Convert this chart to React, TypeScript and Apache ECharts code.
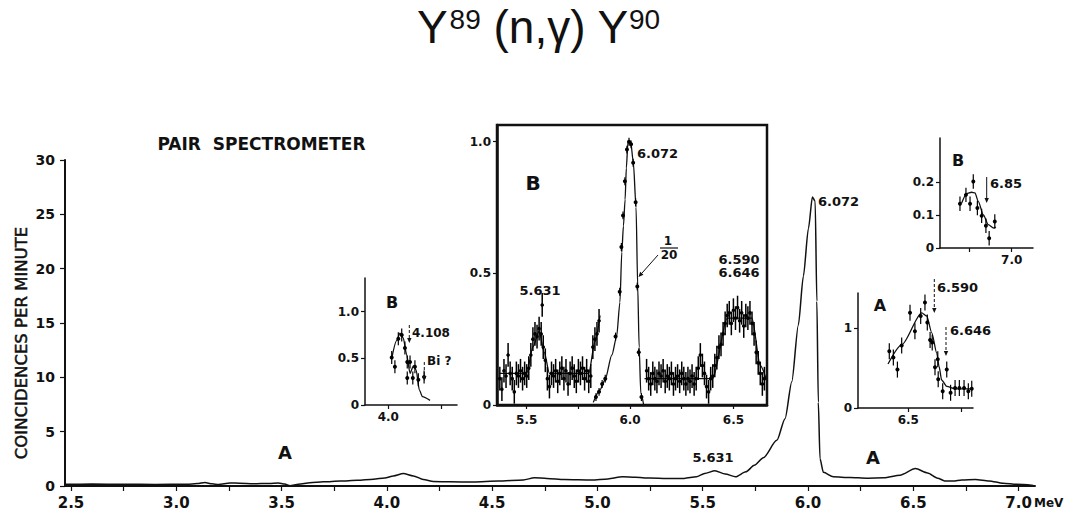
import React, { useEffect, useRef } from "react";
import * as echarts from "echarts";

// ---------- main spectrum (coincidences per minute vs MeV) ----------
const mainTicksX = [2.5, 2.75, 3.0, 3.25, 3.5, 3.75, 4.0, 4.25, 4.5, 4.75, 5.0, 5.25, 5.5, 5.75, 6.0, 6.25, 6.5, 6.75, 7.0];
const mainLabelsX = [2.5, 3.0, 3.5, 4.0, 4.5, 5.0, 5.5, 6.0, 6.5, 7.0];
const mainLabelsY = [0, 5, 10, 15, 20, 25, 30];
const mainSpectrum: [number, number][] = [
  [2.475, 0.15], [2.6, 0.18], [2.75, 0.16], [2.9, 0.14], [3.05, 0.17], [3.1, 0.22], [3.136, 0.32], [3.17, 0.2],
  [3.2, 0.14], [3.255, 0.28], [3.3, 0.26], [3.366, 0.2], [3.44, 0.24], [3.485, 0.28], [3.515, 0.18], [3.54, 0.03],
  [3.58, 0.15], [3.635, 0.3], [3.7, 0.38], [3.778, 0.45], [3.86, 0.52], [3.936, 0.62], [3.99, 0.74], [4.031, 0.93],
  [4.078, 1.15], [4.126, 0.93], [4.173, 0.6], [4.221, 0.42], [4.3, 0.38], [4.41, 0.37], [4.53, 0.45], [4.648, 0.56],
  [4.7, 0.75], [4.76, 0.7], [4.843, 0.6], [4.973, 0.55], [5.05, 0.65], [5.119, 0.85], [5.18, 0.8], [5.249, 0.74],
  [5.33, 0.7], [5.412, 0.7], [5.47, 0.85], [5.509, 1.15], [5.558, 1.4], [5.607, 1.1], [5.656, 0.85], [5.705, 1.3],
  [5.745, 1.9], [5.788, 2.6], [5.852, 4.2], [5.891, 6.2], [5.923, 9.6], [5.954, 14.8], [5.978, 19.3], [6.002, 23.7],
  [6.021, 26.6], [6.034, 26.2], [6.042, 17], [6.049, 7.7], [6.057, 2.5], [6.073, 1.26], [6.12, 0.85], [6.2, 0.78],
  [6.279, 0.72], [6.36, 0.75], [6.437, 1.0], [6.51, 1.6], [6.568, 1.2], [6.616, 0.72], [6.649, 0.47], [6.69, 0.45],
  [6.73, 0.56], [6.795, 0.6], [6.86, 0.47], [6.926, 0.25], [6.991, 0.15], [7.07, 0.05],
];

// ---------- inset B near 4.108 MeV ----------
const b4Line: [number, number][] = [
  [4.016, 0.5], [4.039, 0.69], [4.055, 0.77], [4.07, 0.72], [4.086, 0.54], [4.102, 0.34], [4.118, 0.42],
  [4.13, 0.38], [4.146, 0.16], [4.16, 0.09], [4.196, 0.05],
];
const b4Points: [number, number][] = [
  [4.016, 0.51], [4.031, 0.41], [4.047, 0.71], [4.063, 0.75], [4.078, 0.61], [4.089, 0.46], [4.089, 0.29],
  [4.102, 0.46], [4.115, 0.29], [4.125, 0.41], [4.141, 0.27], [4.168, 0.3],
];

// ---------- large inset B (5.4 – 6.66 MeV) ----------
const bSeg1Points: [number, number][] = [
  [5.37, 0.1], [5.38, 0.06], [5.39, 0.13], [5.4, 0.11], [5.41, 0.19], [5.42, 0.12], [5.43, 0.1], [5.44, 0.05],
  [5.45, 0.12], [5.46, 0.11], [5.47, 0.13], [5.48, 0.1], [5.49, 0.12], [5.5, 0.11], [5.51, 0.14], [5.52, 0.19],
  [5.53, 0.25], [5.54, 0.27], [5.55, 0.26], [5.56, 0.29], [5.57, 0.27], [5.575, 0.38], [5.58, 0.22], [5.59, 0.17],
  [5.6, 0.1], [5.61, 0.07], [5.62, 0.12], [5.63, 0.11], [5.64, 0.13], [5.65, 0.09], [5.66, 0.12], [5.67, 0.14],
  [5.68, 0.1], [5.69, 0.13], [5.7, 0.08], [5.71, 0.12], [5.72, 0.14], [5.73, 0.11], [5.74, 0.09], [5.75, 0.13],
  [5.76, 0.12], [5.77, 0.14], [5.78, 0.1], [5.79, 0.13], [5.8, 0.09], [5.81, 0.11], [5.82, 0.22], [5.83, 0.25],
  [5.84, 0.27], [5.85, 0.32],
];
const bSeg1Line: [number, number][] = [
  [5.37, 0.12], [5.5, 0.12], [5.53, 0.22], [5.56, 0.28], [5.585, 0.2], [5.61, 0.12], [5.8, 0.12], [5.83, 0.24], [5.855, 0.34],
];
const bPeakPoints: [number, number][] = [
  [5.835, 0.03], [5.85, 0.05], [5.865, 0.08], [5.88, 0.1], [5.93, 0.26], [5.95, 0.43], [5.958, 0.6], [5.966, 0.72],
  [5.975, 0.85], [5.985, 0.97], [5.995, 1.0], [6.005, 0.99], [6.015, 0.92], [6.027, 0.77], [6.035, 0.45],
  [6.042, 0.2], [6.055, 0.03],
];
const bPeakLine: [number, number][] = [
  [5.822, 0.01], [5.854, 0.057], [5.879, 0.095], [5.912, 0.19], [5.935, 0.26], [5.951, 0.39], [5.96, 0.58],
  [5.968, 0.68], [5.976, 0.78], [5.982, 0.9], [5.99, 1.0], [6.003, 1.0], [6.016, 0.92], [6.029, 0.75],
  [6.037, 0.45], [6.044, 0.22], [6.052, 0.045], [6.066, 0.0],
];
const bSeg3Points: [number, number][] = [
  [6.08, 0.13], [6.09, 0.1], [6.1, 0.08], [6.11, 0.12], [6.12, 0.1], [6.13, 0.09], [6.14, 0.12], [6.15, 0.11],
  [6.16, 0.13], [6.17, 0.09], [6.18, 0.11], [6.19, 0.1], [6.2, 0.12], [6.21, 0.08], [6.22, 0.1], [6.23, 0.11],
  [6.24, 0.09], [6.25, 0.12], [6.26, 0.1], [6.27, 0.08], [6.28, 0.1], [6.29, 0.09], [6.3, 0.11], [6.31, 0.08],
  [6.32, 0.1], [6.33, 0.14], [6.34, 0.19], [6.35, 0.15], [6.36, 0.12], [6.37, 0.07], [6.38, 0.05], [6.39, 0.1],
  [6.4, 0.11], [6.41, 0.15], [6.42, 0.18], [6.43, 0.22], [6.44, 0.23], [6.45, 0.27], [6.46, 0.31], [6.47, 0.34],
  [6.48, 0.35], [6.49, 0.31], [6.5, 0.36], [6.51, 0.33], [6.52, 0.37], [6.53, 0.32], [6.54, 0.35], [6.55, 0.3],
  [6.56, 0.34], [6.57, 0.33], [6.58, 0.35], [6.59, 0.31], [6.6, 0.27], [6.61, 0.2], [6.62, 0.16], [6.63, 0.12],
  [6.64, 0.08], [6.65, 0.1],
];
const bSeg3Line: [number, number][] = [
  [6.07, 0.1], [6.4, 0.1], [6.47, 0.33], [6.59, 0.33], [6.63, 0.15], [6.662, 0.09],
];

// ---------- inset A (6.590 / 6.646) ----------
const aLine: [number, number][] = [
  [6.405, 0.55], [6.469, 0.79], [6.563, 1.19], [6.586, 1.15], [6.61, 0.94], [6.633, 0.69], [6.644, 0.52],
  [6.656, 0.35], [6.68, 0.27], [6.719, 0.24], [6.797, 0.24],
];
const aPoints: [number, number][] = [
  [6.411, 0.71], [6.43, 0.63], [6.449, 0.48], [6.469, 0.78], [6.508, 1.19], [6.531, 0.96], [6.558, 1.15],
  [6.578, 1.32], [6.589, 1.07], [6.602, 0.85], [6.612, 0.82], [6.625, 0.51], [6.638, 0.61], [6.64, 0.36],
  [6.661, 0.21], [6.68, 0.48], [6.698, 0.19], [6.719, 0.25], [6.739, 0.25], [6.761, 0.25], [6.781, 0.21], [6.797, 0.24],
];

// ---------- inset B (6.85) ----------
const b685Line: [number, number][] = [
  [6.707, 0.137], [6.736, 0.166], [6.765, 0.17], [6.785, 0.168], [6.804, 0.142], [6.834, 0.101],
  [6.863, 0.071], [6.892, 0.061], [6.908, 0.064],
];
const b685Points: [number, number][] = [
  [6.697, 0.135], [6.732, 0.162], [6.756, 0.135], [6.775, 0.203], [6.799, 0.122], [6.824, 0.098],
  [6.849, 0.068], [6.868, 0.03], [6.901, 0.081],
];

const FONT = "DejaVu Sans";
const BLACK = "#111";

function fmt1(v: number) {
  return v === 0 ? "0" : v.toFixed(1);
}

function valueAxis(gridIndex: number, min: number, max: number, ticks: number[], labels: number[], formatter: (v: number) => string, fontSize: number, opts: any = {}) {
  return {
    type: "value",
    gridIndex,
    min,
    max,
    splitLine: { show: false },
    axisLine: { show: true, onZero: false, lineStyle: { color: BLACK, width: opts.lineWidth ?? 1.5 } },
    axisTick: { show: true, customValues: ticks, length: opts.tickLen ?? 4, lineStyle: { color: BLACK, width: 1.2 } },
    axisLabel: {
      show: true,
      customValues: labels,
      formatter: (v: number) => formatter(v),
      color: BLACK,
      fontFamily: FONT,
      fontWeight: "bold",
      fontSize,
      margin: opts.margin ?? 6,
    },
  };
}

function lineSeries(idx: number, data: [number, number][], width = 1.3) {
  return {
    type: "line",
    xAxisIndex: idx,
    yAxisIndex: idx,
    data,
    showSymbol: false,
    smooth: 0.25,
    smoothMonotone: "x",
    lineStyle: { color: BLACK, width },
    silent: true,
    z: 3,
  };
}

function errorSeries(idx: number, data: [number, number][], err: number, r = 1.8, bw = 1.2) {
  return {
    type: "custom",
    xAxisIndex: idx,
    yAxisIndex: idx,
    data,
    encode: { x: 0, y: 1 },
    silent: true,
    z: 4,
    renderItem: (_p: any, api: any) => {
      const x = api.value(0);
      const y = api.value(1);
      const c = api.coord([x, y]);
      const t = api.coord([x, y + err]);
      const b = api.coord([x, Math.max(0, y - err)]);
      return {
        type: "group",
        children: [
          { type: "line", shape: { x1: c[0], y1: t[1], x2: c[0], y2: b[1] }, style: { stroke: "#000", lineWidth: bw } },
          { type: "circle", shape: { cx: c[0], cy: c[1], r }, style: { fill: "#000" } },
        ],
      };
    },
  };
}

function txt(text: string, x: number, y: number, size: number, align = "center", weight = "bold", extra: any = {}) {
  return {
    type: "text",
    x,
    y,
    z: 20,
    silent: true,
    ...extra,
    style: {
      text,
      fill: BLACK,
      fontFamily: extra.family ?? FONT,
      fontSize: size,
      fontWeight: weight,
      align,
      verticalAlign: "middle",
      textAlign: align,
      textVerticalAlign: "middle",
      ...(extra.style ?? {}),
    },
  };
}

function arrow(x1: number, y1: number, x2: number, y2: number, dashed = false) {
  const ang = Math.atan2(y2 - y1, x2 - x1);
  const L = 5, W = 2.2;
  const bx = x2 - L * Math.cos(ang), by = y2 - L * Math.sin(ang);
  const px = -Math.sin(ang) * W, py = Math.cos(ang) * W;
  return [
    { type: "line", z: 20, silent: true, shape: { x1, y1, x2: bx, y2: by }, style: { stroke: BLACK, lineWidth: 1, lineDash: dashed ? [3, 2] : null } },
    { type: "polygon", z: 20, silent: true, shape: { points: [[x2, y2], [bx + px, by + py], [bx - px, by - py]] }, style: { fill: BLACK } },
  ];
}

function titleGraphics() {
  const c = document.createElement("canvas").getContext("2d")!;
  const big = 46, small = 28;
  const fam = "Liberation Sans";
  const pieces = [
    { t: "Y", s: big, y: 27 },
    { t: "89", s: small, y: 19.5 },
    { t: " (n,γ) Y", s: big, y: 27 },
    { t: "90", s: small, y: 19.5 },
  ];
  const widths = pieces.map((p) => {
    c.font = `${p.s}px "${fam}"`;
    return c.measureText(p.t).width;
  });
  const total = widths.reduce((a, b) => a + b, 0) + 2;
  let x = 538.5 - total / 2;
  const out: any[] = [];
  pieces.forEach((p, i) => {
    out.push(txt(p.t, x, p.y, p.s, "left", "normal", { family: fam }));
    x += widths[i] + (i === 0 ? 2 : 0);
  });
  return out;
}

function buildOption() {
  const grids = [
    { left: 65, top: 160, width: 970, height: 326 },
    { left: 365, top: 278, width: 92, height: 127 },
    { left: 497, top: 125, width: 270, height: 280, show: true, borderColor: BLACK, borderWidth: 2.5, backgroundColor: "transparent" },
    { left: 858, top: 293, width: 115, height: 115 },
    { left: 940, top: 138, width: 93, height: 110 },
  ];
  const xAxis = [
    valueAxis(0, 2.4715, 7.078, mainTicksX, mainLabelsX, fmt1, 15, { lineWidth: 2, tickLen: 5, margin: 9 }),
    valueAxis(1, 3.8906, 4.3225, [4.0, 4.25], [4.0], fmt1, 12),
    valueAxis(2, 5.3563, 6.6625, [5.5, 5.75, 6.0, 6.25, 6.5], [5.5, 6.0, 6.5], fmt1, 12, { lineWidth: 2.5, margin: 9 }),
    valueAxis(3, 6.2645, 6.8029, [6.5, 6.75], [6.5], fmt1, 12),
    valueAxis(4, 6.58, 7.1248, [6.75, 7.0], [7.0], fmt1, 12),
  ];
  const yAxis = [
    valueAxis(0, 0, 30, mainLabelsY, mainLabelsY, (v) => String(v), 14, { lineWidth: 2, tickLen: 5, margin: 10 }),
    valueAxis(1, 0, 1.361, [0, 0.5, 1.0], [0, 0.5, 1.0], fmt1, 12),
    valueAxis(2, 0, 1.0634, [0, 0.5, 1.0], [0, 0.5, 1.0], fmt1, 12, { lineWidth: 2.5 }),
    valueAxis(3, 0, 1.4375, [0, 1], [0, 1], (v) => String(v), 12),
    valueAxis(4, 0, 0.3354, [0, 0.1, 0.2], [0, 0.1, 0.2], fmt1, 12),
  ];
  const series = [
    lineSeries(0, mainSpectrum, 1.5),
    lineSeries(1, b4Line),
    errorSeries(1, b4Points, 0.07, 2),
    lineSeries(2, bSeg1Line),
    errorSeries(2, bSeg1Points, 0.045, 1.8, 1.5),
    lineSeries(2, bPeakLine),
    errorSeries(2, bPeakPoints, 0.015, 2),
    lineSeries(2, bSeg3Line),
    errorSeries(2, bSeg3Points, 0.045, 1.8, 1.5),
    lineSeries(3, aLine),
    errorSeries(3, aPoints, 0.1, 2),
    lineSeries(4, b685Line),
    errorSeries(4, b685Points, 0.022, 2),
  ];
  const graphics: any[] = [
    ...titleGraphics(),
    txt("PAIR  SPECTROMETER", 261.5, 144, 17),
    txt("COINCIDENCES PER MINUTE", 21.5, 343, 16.5, "center", "normal", { rotation: Math.PI / 2, style: { stroke: BLACK, lineWidth: 0.5 } }),
    txt("A", 285, 452, 18),
    txt("5.631", 713, 457, 13),
    txt("6.072", 818, 201, 13, "left"),
    txt("A", 873, 457, 18),
    txt("MeV", 1034, 503, 12, "left"),
    // inset near 4.108
    txt("B", 392, 302, 16),
    txt("4.108", 412, 333, 12, "left"),
    ...arrow(409.3, 325, 409.3, 343, true),
    txt("Bi ?", 427, 361, 12, "left"),
    ...arrow(424.3, 362, 424.3, 381, true),
    // large inset B
    txt("B", 533, 183, 20),
    txt("6.072", 637, 153.5, 13, "left"),
    txt("5.631", 540, 290, 13),
    txt("6.590", 739, 259, 13),
    txt("6.646", 739, 272, 13),
    txt("1", 668, 241, 12),
    { type: "line", z: 20, silent: true, shape: { x1: 660, y1: 248, x2: 678, y2: 248 }, style: { stroke: BLACK, lineWidth: 1.2 } },
    txt("20", 669, 255, 12),
    ...arrow(658, 255, 638.5, 277),
    // inset A
    txt("A", 880, 305, 16),
    txt("6.590", 937, 287, 13, "left"),
    ...arrow(934.3, 279, 934.3, 313, true),
    txt("6.646", 950, 330, 13, "left"),
    ...arrow(946, 327, 946, 356, true),
    // inset B 6.85
    txt("B", 958, 160, 16),
    txt("6.85", 990, 183, 13, "left"),
    ...arrow(986.7, 177, 986.7, 203),
  ];
  return {
    animation: false,
    backgroundColor: "#fff",
    grid: grids,
    xAxis,
    yAxis,
    series,
    graphic: graphics,
  };
}

export default function App() {
  const ref = useRef<HTMLDivElement>(null);
  useEffect(() => {
    if (!ref.current) return;
    const chart = echarts.init(ref.current, null, { renderer: "svg" });
    chart.setOption(buildOption() as any);
    return () => chart.dispose();
  }, []);
  return (
    <div
      ref={ref}
      style={{ position: "fixed", left: 0, top: 0, width: 1067, height: 522, background: "#fff" }}
    />
  );
}
